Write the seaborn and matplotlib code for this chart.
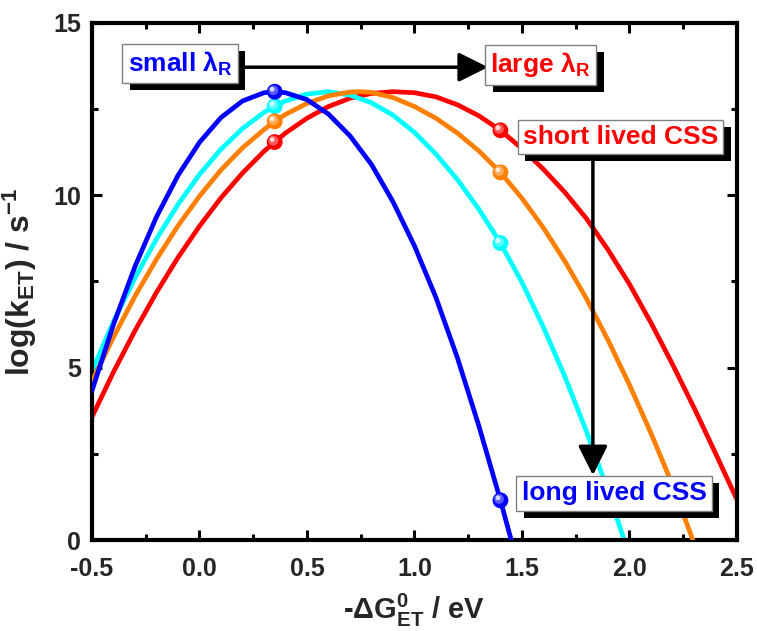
import numpy as np
import pandas as pd
import matplotlib
matplotlib.use("Agg")
import matplotlib.pyplot as plt
import matplotlib.patheffects as pe
import matplotlib.transforms as mtransforms
from matplotlib.ticker import MultipleLocator
import seaborn as sns

# -dG0_ET (eV) and log(k_ET) for four reorganisation energies
blue_x = [-0.5, -0.4, -0.3, -0.2, -0.1, 0.0, 0.1, 0.2, 0.3, 0.35, 0.4, 0.5, 0.6, 0.7,
          0.8, 0.9, 1.0, 1.1, 1.2, 1.3, 1.4, 1.45]
blue_y = [4.33, 6.25, 7.93, 9.37, 10.57, 11.53, 12.25, 12.73, 12.97, 13.0, 12.97, 12.77,
          12.35, 11.72, 10.89, 9.81, 8.53, 7.03, 5.28, 3.3, 1.15, 0.0]

cyan_x = [-0.5, -0.4, -0.3, -0.2, -0.1, 0.0, 0.1, 0.2, 0.3, 0.35, 0.4, 0.5, 0.6, 0.7,
          0.8, 0.9, 1.0, 1.1, 1.2, 1.3, 1.4, 1.5, 1.6, 1.7, 1.8, 1.9, 1.975]
cyan_y = [4.9, 6.33, 7.6, 8.73, 9.73, 10.6, 11.33, 11.93, 12.4, 12.58, 12.73, 12.93,
          13.0, 12.9, 12.68, 12.32, 11.82, 11.19, 10.45, 9.59, 8.61, 7.47, 6.17, 4.73,
          3.15, 1.43, 0.0]

orange_x = [-0.5, -0.4, -0.3, -0.2, -0.1, 0.0, 0.1, 0.2, 0.3, 0.35, 0.4, 0.5, 0.6, 0.7,
            0.75, 0.8, 0.9, 1.0, 1.1, 1.2, 1.3, 1.4, 1.5, 1.6, 1.7, 1.8, 1.9, 2.0, 2.1,
            2.2, 2.295]
orange_y = [4.6, 5.88, 7.07, 8.14, 9.11, 9.97, 10.73, 11.37, 11.9, 12.14, 12.34, 12.66,
            12.88, 12.99, 13.0, 12.98, 12.83, 12.57, 12.23, 11.8, 11.28, 10.66, 9.91,
            9.05, 8.08, 7.0, 5.8, 4.5, 3.1, 1.6, 0.0]

red_x = [-0.5, -0.4, -0.3, -0.2, -0.1, 0.0, 0.1, 0.2, 0.3, 0.35, 0.4, 0.5, 0.6, 0.7,
         0.8, 0.9, 1.0, 1.1, 1.2, 1.3, 1.4, 1.5, 1.6, 1.7, 1.8, 1.9, 2.0, 2.1, 2.2, 2.3,
         2.4, 2.5]
red_y = [3.57, 4.87, 6.07, 7.18, 8.19, 9.1, 9.92, 10.64, 11.27, 11.54, 11.8, 12.23,
         12.57, 12.81, 12.95, 13.0, 12.97, 12.85, 12.62, 12.3, 11.88, 11.35, 10.75,
         10.08, 9.32, 8.42, 7.42, 6.3, 5.1, 3.84, 2.52, 1.17]

# driving forces of the two highlighted states
marked_x = [0.35, 1.4]

x_ticks = [-0.5, 0.0, 0.5, 1.0, 1.5, 2.0, 2.5]
y_ticks = [0, 5, 10, 15]

series = [
    ("red", red_x, red_y, "#ff0000", 2),
    ("orange", orange_x, orange_y, "#ff8000", 3),
    ("cyan", cyan_x, cyan_y, "#00ffff", 2.5),
    ("blue", blue_x, blue_y, "#0000ff", 4),
]

sns.set_theme(style="ticks")
plt.rcParams["font.family"] = ["Liberation Sans", "DejaVu Sans"]
plt.rcParams["font.weight"] = "bold"
plt.rcParams["mathtext.default"] = "regular"

fig = plt.figure(figsize=(7.57, 6.31), dpi=100)
ax = fig.add_axes([0.1215, 0.1442, 0.852, 0.8198])


def lighten(color, f):
    rgb = np.array(matplotlib.colors.to_rgb(color))
    return tuple(rgb + (1 - rgb) * f)


for name, xs, ys, col, z in series:
    df = pd.DataFrame({"dG": xs, "logk": ys})
    sns.lineplot(data=df, x="dG", y="logk", ax=ax, color=col, lw=3.4,
                 estimator=None, sort=True, zorder=z)
    lookup = dict(zip(xs, ys))
    mk = pd.DataFrame({"dG": marked_x, "logk": [lookup[v] for v in marked_x]})
    # shaded ball markers: base, lighter core and a small highlight
    sns.scatterplot(data=mk, x="dG", y="logk", ax=ax, s=130, color=col,
                    edgecolor="none", linewidth=0, zorder=z + 5)
    tr1 = mtransforms.offset_copy(ax.transData, fig=fig, x=-1.0, y=1.0, units="points")
    ax.scatter(mk["dG"], mk["logk"], s=50, color=lighten(col, 0.35), edgecolor="none",
               transform=tr1, zorder=z + 5.1)
    tr2 = mtransforms.offset_copy(ax.transData, fig=fig, x=-1.8, y=1.8, units="points")
    ax.scatter(mk["dG"], mk["logk"], s=12, color=lighten(col, 0.85), edgecolor="none",
               transform=tr2, zorder=z + 5.2)

ax.set_xlim(-0.5, 2.5)
ax.set_ylim(0, 15)
ax.set_xticks(x_ticks)
ax.set_xticklabels([f"{v:.1f}" for v in x_ticks])
ax.set_yticks(y_ticks)
ax.set_yticklabels([str(v) for v in y_ticks])
ax.xaxis.set_minor_locator(MultipleLocator(0.25))
ax.yaxis.set_minor_locator(MultipleLocator(2.5))
ax.tick_params(which="both", direction="in", top=True, right=True, width=2.2,
               color="black", labelsize=18)
ax.tick_params(axis="x", which="major", pad=12)
ax.tick_params(axis="y", which="major", pad=8)
ax.tick_params(which="major", length=7)
ax.tick_params(which="minor", length=4)
for lab in ax.get_xticklabels() + ax.get_yticklabels():
    lab.set_fontweight("bold")
for sp in ax.spines.values():
    sp.set_linewidth(3.0)
    sp.set_color("black")
    sp.set_visible(True)

ax.set_xlabel(r"-Δ$G^{0}_{ET}$ / eV", fontsize=21, fontweight="bold", labelpad=8)
ax.set_ylabel(r"log(k$_{ET}$) / s$^{-1}$", fontsize=23, fontweight="bold", labelpad=10)


def boxed(x, y, s, color):
    t = ax.text(x, y, s, color=color, fontsize=19, fontweight="bold", ha="center",
                va="center", zorder=20,
                bbox=dict(boxstyle="square,pad=0.2", fc="white", ec="#808080", lw=1.0))
    t.get_bbox_patch().set_path_effects(
        [pe.withSimplePatchShadow(offset=(5.5, -5), shadow_rgbFace="black", alpha=1.0)])
    return t


boxed(-0.091, 13.81, r"small λ$_R$", "#0000ff")
boxed(1.586, 13.78, r"large λ$_R$", "#ff0000")
boxed(1.958, 11.68, "short lived CSS", "#ff0000")
boxed(1.928, 1.35, "long lived CSS", "#0000ff")

arrow_kw = dict(arrowstyle="-|>,head_length=0.9,head_width=0.45", color="black",
                lw=2.5, shrinkA=0, shrinkB=0, mutation_scale=20)
ax.annotate("", xy=(1.342, 13.71), xytext=(0.17, 13.71),
            arrowprops=arrow_kw, zorder=15)
ax.annotate("", xy=(1.83, 1.88), xytext=(1.83, 11.2),
            arrowprops=arrow_kw, zorder=15)

fig.savefig("out.png", dpi=100)
